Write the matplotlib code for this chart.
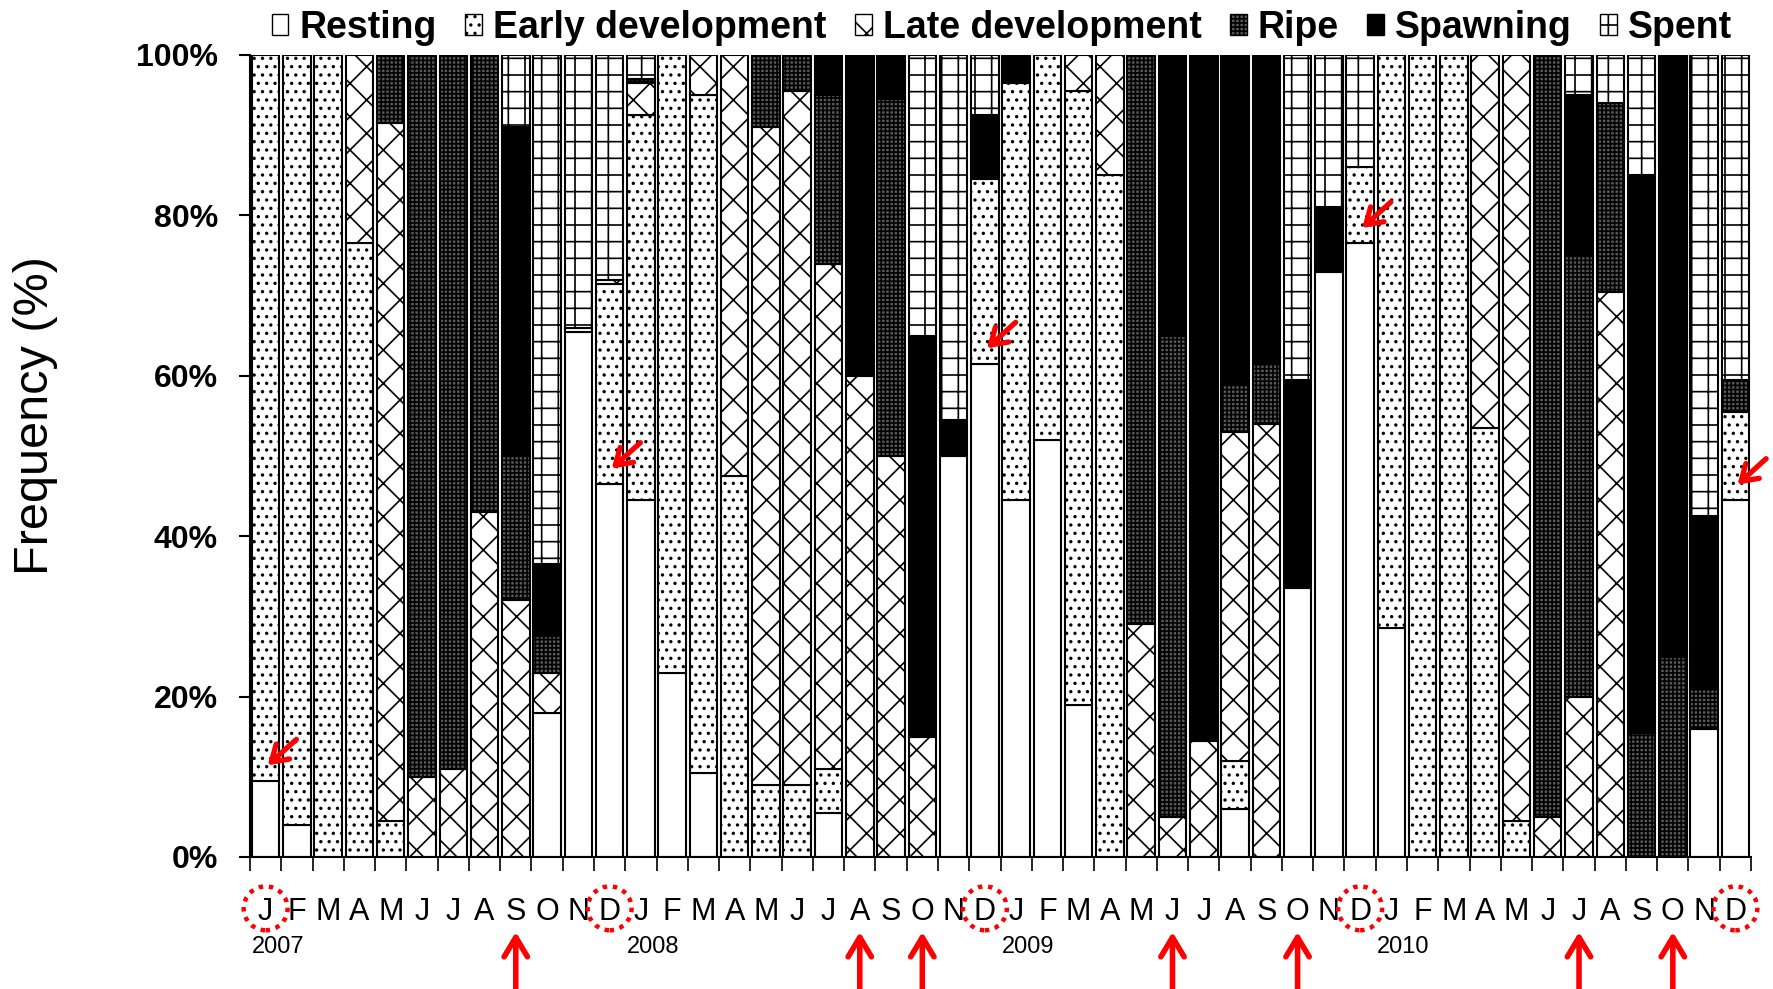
import matplotlib
matplotlib.use('Agg')
import matplotlib.pyplot as plt
import matplotlib.transforms as mtransforms
from matplotlib.patches import Patch
from matplotlib import font_manager
import numpy as np

plt.rcParams['font.family'] = 'Liberation Sans'
plt.rcParams['hatch.linewidth'] = 1.2

# month labels, 2007-2010
months = list('JFMAMJJASOND') * 4
years = ['2007', '2008', '2009', '2010']

# percentage of each stage per month
resting = [9.5, 4, 0, 0, 0, 0, 0, 0, 0, 18, 65.5, 46.5,
           44.5, 23, 10.5, 0, 0, 0, 5.5, 0, 0, 0, 50, 61.5,
           44.5, 52, 19, 0, 0, 0, 0, 6, 0, 33.5, 73, 76.5,
           28.5, 0, 0, 0, 0, 0, 0, 0, 0, 0, 16, 44.5]
early = [90.5, 96, 100, 76.5, 4.5, 0, 0, 0, 0, 0, 0.5, 25,
         48, 77, 84.5, 47.5, 9, 9, 5.5, 0, 0, 0, 0, 23,
         52, 48, 76.5, 85, 0, 0, 0, 6, 0, 0, 0, 9.5,
         71.5, 100, 100, 53.5, 4.5, 0, 0, 0, 0, 0, 0, 11]
late = [0, 0, 0, 23.5, 87, 10, 11, 43, 32, 5, 0, 0.5,
        4, 0, 5, 52.5, 82, 86.5, 63, 60, 50, 15, 0, 0,
        0, 0, 4.5, 15, 29, 5, 14.5, 41, 54, 0, 0, 0,
        0, 0, 0, 46.5, 95.5, 5, 20, 70.5, 0, 0, 0, 0]
ripe = [0, 0, 0, 0, 8.5, 90, 89, 57, 18, 4.5, 0, 0,
        0.5, 0, 0, 0, 9, 4.5, 21, 0, 44.5, 0, 0, 0,
        0, 0, 0, 0, 71, 60, 0, 6, 7.5, 0, 0, 0,
        0, 0, 0, 0, 0, 95, 55, 23.5, 15.5, 25, 5, 4]
spawning = [0, 0, 0, 0, 0, 0, 0, 0, 41, 9, 0, 0,
            0, 0, 0, 0, 0, 0, 5, 40, 5.5, 50, 4.5, 8,
            3.5, 0, 0, 0, 0, 35, 85.5, 41, 38.5, 26, 8, 0,
            0, 0, 0, 0, 0, 0, 20, 0, 69.5, 75, 21.5, 0]
spent = [0, 0, 0, 0, 0, 0, 0, 0, 9, 63.5, 34, 28,
         3, 0, 0, 0, 0, 0, 0, 0, 0, 35, 45.5, 7.5,
         0, 0, 0, 0, 0, 0, 0, 0, 0, 40.5, 19, 14,
         0, 0, 0, 0, 0, 0, 5, 6, 15, 0, 57.5, 40.5]

stages = ['Resting', 'Early development', 'Late development', 'Ripe', 'Spawning', 'Spent']
series = [resting, early, late, ripe, spawning, spent]
faces = ['white', 'white', 'white', '#5a5a5a', 'black', 'white']
hatches = [None, '..', 'x', '++++', None, '+']

# annotations: months with small diagonal arrows / dotted circles, and big arrows
marked = [0, 11, 23, 35, 47]
peaks = [8, 19, 21, 29, 33, 42, 45]

fig = plt.figure(figsize=(17.73, 9.89), dpi=100)
ax = fig.add_axes([250 / 1773, 1 - 857 / 989, 1501 / 1773, 802 / 989])

x = np.arange(len(months))
bottom = np.zeros(len(months))
for vals, fc, h in zip(series, faces, hatches):
    vals = np.array(vals, dtype=float)
    m = vals > 0
    ax.bar(x[m], vals[m], bottom=bottom[m], width=0.88, color=fc,
           edgecolor='black', linewidth=1.5, hatch=h, zorder=2)
    bottom += vals

ax.set_xlim(-0.5, len(months) - 0.5)
ax.set_ylim(0, 100)
ax.set_xticks(np.arange(-0.5, len(months), 1))
ax.set_xticklabels([])
ax.tick_params(axis='x', direction='out', length=10, width=1.2)
ax.set_yticks([0, 20, 40, 60, 80, 100])
ax.set_yticklabels([f'{v}%' for v in [0, 20, 40, 60, 80, 100]],
                   fontsize=23, fontweight='bold')
ax.tick_params(axis='y', direction='out', length=8, width=1.5, pad=15)
for s in ['top', 'right']:
    ax.spines[s].set_visible(False)
ax.spines['left'].set_linewidth(1.5)
ax.spines['bottom'].set_linewidth(1.5)

ax.text(-0.143, 0.55, 'Frequency (%)', transform=ax.transAxes, rotation=90,
        ha='center', va='center', fontsize=35)

trans = mtransforms.blended_transform_factory(ax.transData, ax.transAxes)
for i, mo in enumerate(months):
    ax.text(i, -0.068, mo, transform=trans, ha='center', va='center', fontsize=22)
for k, yr in enumerate(years):
    ax.text(12 * k - 0.45, -0.112, yr, transform=trans, ha='left', va='center', fontsize=17)

ax.scatter(marked, [-0.064] * len(marked), transform=trans, s=1000,
           facecolors='none', edgecolors='red', linewidths=3.2,
           linestyles=(0, (1, 1.3)), clip_on=False, zorder=5)

for i in peaks:
    ax.annotate('', xy=(i, -0.09), xytext=(i, -0.18), xycoords=trans, textcoords=trans,
                arrowprops=dict(arrowstyle='->,head_length=0.7,head_width=0.42',
                                mutation_scale=20, lw=4, color='red'),
                annotation_clip=False)

for i in marked:
    r = resting[i]
    ax.annotate('', xy=(i, r + 1.7), xytext=(i + 1.05, r + 5.4),
                arrowprops=dict(arrowstyle='->,head_length=0.7,head_width=0.45',
                                mutation_scale=16, lw=3.8, color='red'),
                annotation_clip=False, zorder=6)

names = {f.name for f in font_manager.fontManager.ttflist}
if 'Liberation Sans Narrow' in names:
    lprop = dict(family='Liberation Sans Narrow', weight='bold', size=33)
else:
    lprop = dict(family='Liberation Sans', weight='bold', size=27)
handles = [Patch(facecolor=fc, edgecolor='black', hatch=h, linewidth=1)
           for fc, h in zip(faces, hatches)]
fig.legend(handles, stages, loc='upper center', bbox_to_anchor=(1002 / 1773, 0.99),
           ncol=6, frameon=False, prop=lprop, handlelength=0.45, handleheight=0.45,
           handletextpad=0.3, columnspacing=0.75, borderaxespad=0, borderpad=0)

fig.savefig('out.png', dpi=100)
